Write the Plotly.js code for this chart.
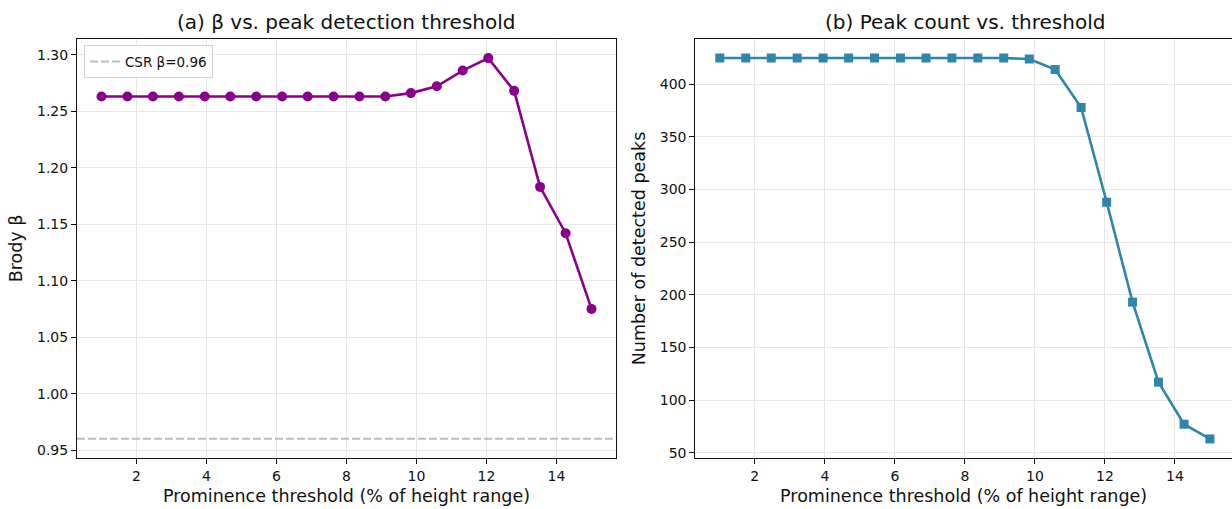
<!DOCTYPE html>
<html>
<head>
<meta charset="utf-8">
<script src="https://cdn.plot.ly/plotly-3.0.1.min.js"></script>
<style>html,body{margin:0;padding:0;background:#fff}#chart{width:1232px;height:509px}</style>
</head>
<body>
<div id="chart"></div>
<script>
const thresholds = [1.00, 1.74, 2.47, 3.21, 3.95, 4.68, 5.42, 6.16, 6.89, 7.63, 8.37, 9.11, 9.84, 10.58, 11.32, 12.05, 12.79, 13.53, 14.26, 15.00];
const brodyBeta = [1.263, 1.263, 1.263, 1.263, 1.263, 1.263, 1.263, 1.263, 1.263, 1.263, 1.263, 1.263, 1.266, 1.272, 1.286, 1.297, 1.268, 1.183, 1.142, 1.075];
const peakCount = [425, 425, 425, 425, 425, 425, 425, 425, 425, 425, 425, 425, 424, 414, 378, 288, 193, 117, 77, 63];
const csrBeta = 0.96;

const FONT = 'DejaVu Sans, sans-serif';
const gridCol = '#e6e6e6';

const traces = [
  {x: thresholds, y: brodyBeta, xaxis: 'x', yaxis: 'y', type: 'scatter', mode: 'lines+markers',
   line: {color: '#8B008B', width: 2.6}, marker: {color: '#8B008B', size: 10, symbol: 'circle'},
   showlegend: false, hoverinfo: 'x+y'},
  {x: thresholds, y: peakCount, xaxis: 'x2', yaxis: 'y2', type: 'scatter', mode: 'lines+markers',
   line: {color: '#2E86AB', width: 2.6}, marker: {color: '#2E86AB', size: 9, symbol: 'square'},
   showlegend: false, hoverinfo: 'x+y'}
];

const axBase = {
  showgrid: true, gridcolor: gridCol, gridwidth: 1, zeroline: false,
  showline: true, linecolor: '#111', linewidth: 1,
  ticks: 'outside', ticklen: 5, tickwidth: 1, tickcolor: '#111',
  tickfont: {family: FONT, size: 14, color: '#111'}
};
const axTitleFont = {family: FONT, size: 17.5, color: '#111'};
const W = 1155;

const layout = {
  width: 1232, height: 509,
  margin: {l: 77, r: 0, t: 39, b: 51},
  paper_bgcolor: '#fff', plot_bgcolor: '#fff',
  font: {family: FONT, color: '#111'},
  xaxis: Object.assign({}, axBase, {domain: [0, 539/W], range: [0.3, 15.7], dtick: 2, tick0: 0, mirror: true,
    title: {text: 'Prominence threshold (% of height range)', font: axTitleFont, standoff: 6}}),
  yaxis: Object.assign({}, axBase, {domain: [0, 1], range: [0.943, 1.3139], dtick: 0.05, tick0: 0, tickformat: '.2f', mirror: true,
    title: {text: 'Brody β', font: axTitleFont, standoff: 9}}),
  xaxis2: Object.assign({}, axBase, {anchor: 'y2', domain: [618.3/W, 1], range: [0.3, 15.63], dtick: 2, tick0: 0, mirror: true,
    title: {text: 'Prominence threshold (% of height range)', font: axTitleFont, standoff: 6}}),
  yaxis2: Object.assign({}, axBase, {anchor: 'x2', domain: [0, 1], range: [44.9, 443.1], dtick: 50, tick0: 0, mirror: false,
    title: {text: 'Number of detected peaks', font: axTitleFont, standoff: 9}}),
  shapes: [
    {type: 'line', xref: 'x domain', yref: 'y', x0: 0, x1: 1, y0: csrBeta, y1: csrBeta,
     line: {color: '#bdbdbd', width: 2, dash: '8px,3px'}, showlegend: true, name: 'CSR β=0.96'}
  ],
  legend: {x: 0.006, y: 0.985, xanchor: 'left', yanchor: 'top', bgcolor: 'rgba(255,255,255,0.85)',
    bordercolor: '#d0d0d0', borderwidth: 1, font: {family: FONT, size: 13.5, color: '#111'},
    itemwidth: 30, tracegroupgap: 0},
  annotations: [
    {text: '(a) β vs. peak detection threshold', xref: 'paper', yref: 'paper', x: 269.5/W, y: 1, yshift: 3,
     xanchor: 'center', yanchor: 'bottom', showarrow: false, font: {family: FONT, size: 20, color: '#111'}},
    {text: '(b) Peak count vs. threshold', xref: 'paper', yref: 'paper', x: (618.3 + 270)/W, y: 1, yshift: 3,
     xanchor: 'center', yanchor: 'bottom', showarrow: false, font: {family: FONT, size: 20, color: '#111'}}
  ]
};

Plotly.newPlot('chart', traces, layout, {displayModeBar: false, staticPlot: true});
</script>
</body>
</html>
